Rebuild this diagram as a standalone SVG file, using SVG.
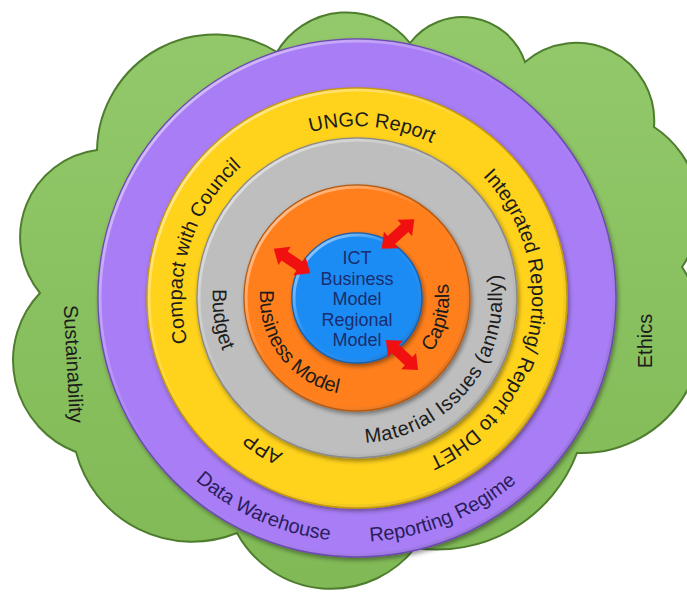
<svg xmlns="http://www.w3.org/2000/svg" width="687" height="592" viewBox="0 0 687 592">
  <style>
    .lbl { font-family: "Liberation Sans", Arial, sans-serif; font-size: 20px; fill: #1c1c1c; }
    .pur { fill: #2a1d5c; }
    .ctr { font-family: "Liberation Sans", Arial, sans-serif; font-size: 18px; fill: #1a2d6e; text-anchor: middle; }
    .ring { filter: url(#sh); }
    .bevel { fill: none; stroke: url(#hl); stroke-width: 3; }
    .arrow { fill: #f01010; }
  </style>
  <defs>
    <filter id="sh" x="-10%" y="-10%" width="120%" height="120%">
      <feDropShadow dx="1.5" dy="2.5" stdDeviation="2" flood-color="#000" flood-opacity="0.4"/>
    </filter>
    <linearGradient id="gcloud" x1="0" y1="0" x2="0" y2="1">
      <stop offset="0" stop-color="#93c96b"/>
      <stop offset="1" stop-color="#80b955"/>
    </linearGradient>
    <linearGradient id="hl" x1="0" y1="0" x2="1" y2="1">
      <stop offset="0" stop-color="#ffffff" stop-opacity="0.7"/>
      <stop offset="0.45" stop-color="#ffffff" stop-opacity="0"/>
      <stop offset="1" stop-color="#000000" stop-opacity="0.2"/>
    </linearGradient>
    <path id="pUNGC" d="M182.7,282.7 A175,175 0 0 1 531.3,313.3"/>
    <path id="pCompact" d="M305.8,465.4 A175,175 0 0 1 408.2,130.6"/>
    <path id="pIntegrated" d="M390.4,126.2 A175,175 0 0 1 323.6,469.8"/>
    <path id="pAPP" d="M505.4,390.7 A175,175 0 0 1 208.6,205.3"/>
    <path id="pData" d="M131.4,197.5 A247,247 0 0 0 582.6,398.5"/>
    <path id="pRegime" d="M128,390.5 A247,247 0 0 0 586,205.5"/>
    <path id="pBudget" d="M334.2,153.8 A146,146 0 0 0 379.8,442.2"/>
    <path id="pMaterial" d="M266.7,411.5 A145,145 0 0 0 447.3,184.5"/>
    <path id="pBusiness" d="M298.6,220.5 A97,97 0 0 0 415.4,375.5"/>
    <path id="pCapitals" d="M335.5,387.5 A92,92 0 0 0 378.5,208.5"/>
  </defs>

  <g id="cloud">
    <path d="M277,52 A81,81 0 0 1 410,43 A66,66 0 0 1 525,62 A78,78 0 0 1 654,127 A100,100 0 0 1 682,267 A120,120 0 0 1 577,453 A150,150 0 0 1 415,548 A107,107 0 0 1 237,533 A120,120 0 0 1 76,452 A98,98 0 0 1 40,293 A88,88 0 0 1 97,150 A118,118 0 0 1 277,52 Z" fill="url(#gcloud)" stroke="#4e7d2e" stroke-width="2"/>
    <text class="lbl" font-size="21" text-anchor="middle" transform="translate(72,364) rotate(87)" dominant-baseline="middle">Sustainability</text>
    <text class="lbl" font-size="25" text-anchor="middle" transform="translate(647,341) rotate(-90)" dominant-baseline="middle">Ethics</text>
  </g>

  <g id="purple-ring">
    <circle class="ring" cx="357" cy="298" r="259" fill="#a87df5" stroke="#6d48b5" stroke-width="1.5"/>
    <circle class="bevel" cx="357" cy="298" r="257"/>
    <text class="lbl pur"><textPath href="#pData" startOffset="50%" text-anchor="middle">Data Warehouse</textPath></text>
    <text class="lbl pur"><textPath href="#pRegime" startOffset="50%" text-anchor="middle">Reporting Regime</textPath></text>
  </g>

  <g id="yellow-ring">
    <circle class="ring" cx="357" cy="298" r="210" fill="#ffd21e" stroke="#c99a00" stroke-width="1.5"/>
    <circle class="bevel" cx="357" cy="298" r="208"/>
    <text class="lbl"><textPath href="#pUNGC" startOffset="50%" text-anchor="middle">UNGC Report</textPath></text>
    <text class="lbl"><textPath href="#pCompact" startOffset="50%" text-anchor="middle">Compact with Council</textPath></text>
    <text class="lbl" font-size="19"><textPath href="#pIntegrated" startOffset="50%" text-anchor="middle">Integrated Reporting/ Report to DHET</textPath></text>
    <text class="lbl"><textPath href="#pAPP" startOffset="50%" text-anchor="middle">APP</textPath></text>
  </g>

  <g id="grey-ring">
    <circle class="ring" cx="357" cy="298" r="160" fill="#bebebe" stroke="#8a8a8a" stroke-width="1.5"/>
    <circle class="bevel" cx="357" cy="298" r="158"/>
    <text class="lbl" font-size="22"><textPath href="#pBudget" startOffset="50%" text-anchor="middle">Budget</textPath></text>
    <text class="lbl" font-size="22" letter-spacing="0.6"><textPath href="#pMaterial" startOffset="50%" text-anchor="middle">Material Issues (annually)</textPath></text>
  </g>

  <g id="orange-ring">
    <circle class="ring" cx="357" cy="298" r="113" fill="#ff7f1e" stroke="#b85a10" stroke-width="1.5"/>
    <circle class="bevel" cx="357" cy="298" r="111"/>
    <text class="lbl" font-size="21"><textPath href="#pBusiness" startOffset="50%" text-anchor="middle">Business Model</textPath></text>
    <text class="lbl"><textPath href="#pCapitals" startOffset="50%" text-anchor="middle">Capitals</textPath></text>
  </g>

  <g id="center">
    <circle class="ring" cx="357" cy="298" r="65" fill="#1e8cf5" stroke="#1560b0" stroke-width="1.5"/>
    <circle class="bevel" cx="357" cy="298" r="63"/>
    <text class="ctr" x="357" y="264">ICT</text>
    <text class="ctr" x="357" y="284.5">Business</text>
    <text class="ctr" x="357" y="305">Model</text>
    <text class="ctr" x="357" y="325.5">Regional</text>
    <text class="ctr" x="357" y="346">Model</text>
  </g>

  <g id="connectors">
    <polygon class="arrow" transform="translate(292,261) rotate(34)" points="-22,0 -9,-11 -9,-5.5 9,-5.5 9,-11 22,0 9,11 9,5.5 -9,5.5 -9,11"/>
    <polygon class="arrow" transform="translate(398,234) rotate(-42)" points="-22,0 -9,-11 -9,-5.5 9,-5.5 9,-11 22,0 9,11 9,5.5 -9,5.5 -9,11"/>
    <polygon class="arrow" transform="translate(402,355) rotate(43)" points="-22,0 -9,-11 -9,-5.5 9,-5.5 9,-11 22,0 9,11 9,5.5 -9,5.5 -9,11"/>
  </g>
</svg>
